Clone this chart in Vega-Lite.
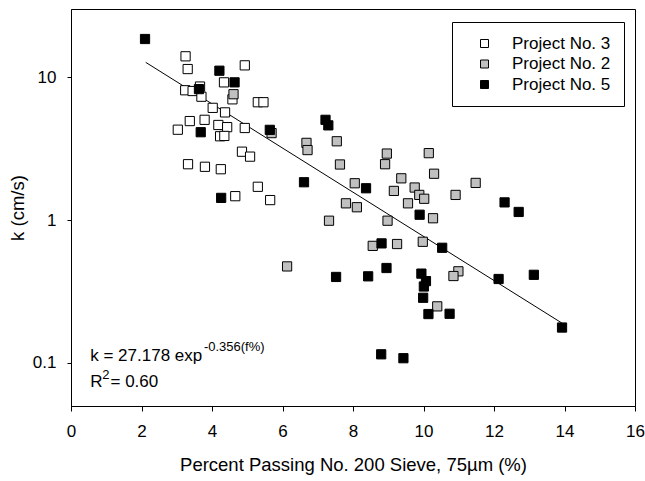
{
  "$schema": "https://vega.github.io/schema/vega-lite/v6.json",
  "width": 564,
  "height": 397,
  "autosize": {"type": "none"},
  "padding": {"left": 71, "top": 9, "right": 10, "bottom": 75},
  "background": "white",
  "config": {
    "font": "Liberation Sans",
    "view": {"stroke": "black", "strokeWidth": 1},
    "axis": {
      "grid": false,
      "domainColor": "black",
      "tickColor": "black",
      "labelColor": "black",
      "titleColor": "black",
      "labelFont": "Liberation Sans",
      "titleFont": "Liberation Sans",
      "labelFontSize": 17,
      "titleFontSize": 18.5,
      "titleFontWeight": "normal"
    }
  },
  "datasets": {
    "points": [
      {"f": 3.25, "k": 14.0, "project": "Project No. 3"},
      {"f": 3.31, "k": 11.4, "project": "Project No. 3"},
      {"f": 4.93, "k": 12.1, "project": "Project No. 3"},
      {"f": 4.34, "k": 9.2, "project": "Project No. 3"},
      {"f": 3.24, "k": 8.1, "project": "Project No. 3"},
      {"f": 3.45, "k": 8.0, "project": "Project No. 3"},
      {"f": 3.66, "k": 8.6, "project": "Project No. 3"},
      {"f": 3.70, "k": 7.3, "project": "Project No. 3"},
      {"f": 4.58, "k": 7.0, "project": "Project No. 3"},
      {"f": 5.30, "k": 6.68, "project": "Project No. 3"},
      {"f": 5.46, "k": 6.68, "project": "Project No. 3"},
      {"f": 4.02, "k": 6.1, "project": "Project No. 3"},
      {"f": 4.37, "k": 5.67, "project": "Project No. 3"},
      {"f": 3.37, "k": 4.93, "project": "Project No. 3"},
      {"f": 3.79, "k": 5.03, "project": "Project No. 3"},
      {"f": 3.03, "k": 4.29, "project": "Project No. 3"},
      {"f": 4.18, "k": 4.63, "project": "Project No. 3"},
      {"f": 4.43, "k": 4.47, "project": "Project No. 3"},
      {"f": 4.93, "k": 4.41, "project": "Project No. 3"},
      {"f": 4.23, "k": 3.86, "project": "Project No. 3"},
      {"f": 4.35, "k": 3.88, "project": "Project No. 3"},
      {"f": 4.85, "k": 3.01, "project": "Project No. 3"},
      {"f": 5.08, "k": 2.78, "project": "Project No. 3"},
      {"f": 3.32, "k": 2.46, "project": "Project No. 3"},
      {"f": 3.80, "k": 2.36, "project": "Project No. 3"},
      {"f": 4.25, "k": 2.27, "project": "Project No. 3"},
      {"f": 5.30, "k": 1.71, "project": "Project No. 3"},
      {"f": 4.66, "k": 1.47, "project": "Project No. 3"},
      {"f": 5.65, "k": 1.38, "project": "Project No. 3"},
      {"f": 4.61, "k": 7.6, "project": "Project No. 2"},
      {"f": 5.69, "k": 4.06, "project": "Project No. 2"},
      {"f": 6.68, "k": 3.47, "project": "Project No. 2"},
      {"f": 6.71, "k": 3.09, "project": "Project No. 2"},
      {"f": 7.54, "k": 3.56, "project": "Project No. 2"},
      {"f": 7.63, "k": 2.45, "project": "Project No. 2"},
      {"f": 8.96, "k": 2.92, "project": "Project No. 2"},
      {"f": 8.91, "k": 2.46, "project": "Project No. 2"},
      {"f": 10.15, "k": 2.94, "project": "Project No. 2"},
      {"f": 10.30, "k": 2.11, "project": "Project No. 2"},
      {"f": 9.37, "k": 1.96, "project": "Project No. 2"},
      {"f": 11.48, "k": 1.82, "project": "Project No. 2"},
      {"f": 8.05, "k": 1.81, "project": "Project No. 2"},
      {"f": 9.75, "k": 1.69, "project": "Project No. 2"},
      {"f": 9.16, "k": 1.60, "project": "Project No. 2"},
      {"f": 9.88, "k": 1.50, "project": "Project No. 2"},
      {"f": 10.02, "k": 1.41, "project": "Project No. 2"},
      {"f": 10.91, "k": 1.50, "project": "Project No. 2"},
      {"f": 7.80, "k": 1.31, "project": "Project No. 2"},
      {"f": 8.11, "k": 1.23, "project": "Project No. 2"},
      {"f": 9.56, "k": 1.31, "project": "Project No. 2"},
      {"f": 7.32, "k": 0.99, "project": "Project No. 2"},
      {"f": 8.98, "k": 0.99, "project": "Project No. 2"},
      {"f": 10.27, "k": 1.03, "project": "Project No. 2"},
      {"f": 9.98, "k": 0.705, "project": "Project No. 2"},
      {"f": 8.56, "k": 0.66, "project": "Project No. 2"},
      {"f": 9.25, "k": 0.68, "project": "Project No. 2"},
      {"f": 6.13, "k": 0.474, "project": "Project No. 2"},
      {"f": 10.99, "k": 0.438, "project": "Project No. 2"},
      {"f": 10.85, "k": 0.406, "project": "Project No. 2"},
      {"f": 10.39, "k": 0.249, "project": "Project No. 2"},
      {"f": 2.10, "k": 18.5, "project": "Project No. 5"},
      {"f": 4.21, "k": 11.1, "project": "Project No. 5"},
      {"f": 4.64, "k": 9.2, "project": "Project No. 5"},
      {"f": 3.63, "k": 8.25, "project": "Project No. 5"},
      {"f": 3.68, "k": 4.12, "project": "Project No. 5"},
      {"f": 5.64, "k": 4.28, "project": "Project No. 5"},
      {"f": 4.26, "k": 1.43, "project": "Project No. 5"},
      {"f": 7.22, "k": 5.03, "project": "Project No. 5"},
      {"f": 7.30, "k": 4.6, "project": "Project No. 5"},
      {"f": 6.61, "k": 1.84, "project": "Project No. 5"},
      {"f": 8.37, "k": 1.67, "project": "Project No. 5"},
      {"f": 9.89, "k": 1.09, "project": "Project No. 5"},
      {"f": 12.30, "k": 1.33, "project": "Project No. 5"},
      {"f": 12.70, "k": 1.14, "project": "Project No. 5"},
      {"f": 10.53, "k": 0.64, "project": "Project No. 5"},
      {"f": 8.81, "k": 0.687, "project": "Project No. 5"},
      {"f": 8.95, "k": 0.462, "project": "Project No. 5"},
      {"f": 7.52, "k": 0.40, "project": "Project No. 5"},
      {"f": 8.43, "k": 0.404, "project": "Project No. 5"},
      {"f": 9.94, "k": 0.422, "project": "Project No. 5"},
      {"f": 10.07, "k": 0.374, "project": "Project No. 5"},
      {"f": 10.01, "k": 0.343, "project": "Project No. 5"},
      {"f": 9.99, "k": 0.286, "project": "Project No. 5"},
      {"f": 10.14, "k": 0.22, "project": "Project No. 5"},
      {"f": 10.74, "k": 0.221, "project": "Project No. 5"},
      {"f": 12.13, "k": 0.387, "project": "Project No. 5"},
      {"f": 13.13, "k": 0.414, "project": "Project No. 5"},
      {"f": 13.93, "k": 0.177, "project": "Project No. 5"},
      {"f": 8.80, "k": 0.115, "project": "Project No. 5"},
      {"f": 9.43, "k": 0.108, "project": "Project No. 5"}
    ],
    "fit": [
      {"f": 2.12, "k": 12.7},
      {"f": 13.93, "k": 0.19}
    ],
    "mainText": [
      {"f": 0.545, "k": 0.1038, "t": "k = 27.178 exp"},
      {"f": 0.545, "k": 0.0683, "t": "R"},
      {"f": 1.12, "k": 0.0683, "t": "= 0.60"}
    ],
    "supText": [
      {"f": 3.77, "k": 0.121, "t": "-0.356(f%)"},
      {"f": 0.89, "k": 0.0775, "t": "2"}
    ]
  },
  "encoding": {
    "x": {
      "field": "f",
      "type": "quantitative",
      "scale": {"domain": [0, 16], "nice": false, "zero": false},
      "axis": {
        "title": "Percent Passing No. 200 Sieve, 75µm (%)",
        "values": [0, 2, 4, 6, 8, 10, 12, 14, 16],
        "tickSize": 5,
        "labelPadding": 12,
        "titlePadding": 16,
        "labelFlush": false
      }
    },
    "y": {
      "field": "k",
      "type": "quantitative",
      "scale": {"type": "log", "domain": [0.05, 30], "nice": false},
      "axis": {
        "title": "k (cm/s)",
        "values": [0.1, 1, 10],
        "format": "~g",
        "tickSize": 4,
        "labelPadding": 11,
        "titlePadding": 5
      }
    }
  },
  "layer": [
    {
      "data": {"name": "fit"},
      "mark": {"type": "line", "color": "black", "strokeWidth": 1}
    },
    {
      "data": {"name": "points"},
      "mark": {"type": "point", "shape": "square", "filled": true, "size": 85, "stroke": "black", "strokeWidth": 1, "opacity": 1},
      "encoding": {
        "fill": {
          "field": "project",
          "type": "nominal",
          "sort": null,
          "scale": {"domain": ["Project No. 3", "Project No. 2", "Project No. 5"], "range": ["white", "#c0c0c0", "black"]},
          "legend": {
            "orient": "none",
            "legendX": 381,
            "legendY": 13,
            "title": null,
            "padding": 13,
            "strokeColor": "black",
            "fillColor": "white",
            "symbolType": "square",
            "symbolSize": 64,
            "symbolStrokeColor": "black",
            "symbolStrokeWidth": 1,
            "symbolOffset": 11,
            "labelOffset": 19,
            "labelFontSize": 17,
            "labelColor": "black",
            "labelFont": "Liberation Sans",
            "rowPadding": 2.5
          }
        }
      }
    },
    {
      "data": {"name": "mainText"},
      "mark": {"type": "text", "align": "left", "baseline": "alphabetic", "fontSize": 17, "color": "black"},
      "encoding": {"text": {"field": "t"}}
    },
    {
      "data": {"name": "supText"},
      "mark": {"type": "text", "align": "left", "baseline": "alphabetic", "fontSize": 13, "color": "black"},
      "encoding": {"text": {"field": "t"}}
    }
  ]
}
